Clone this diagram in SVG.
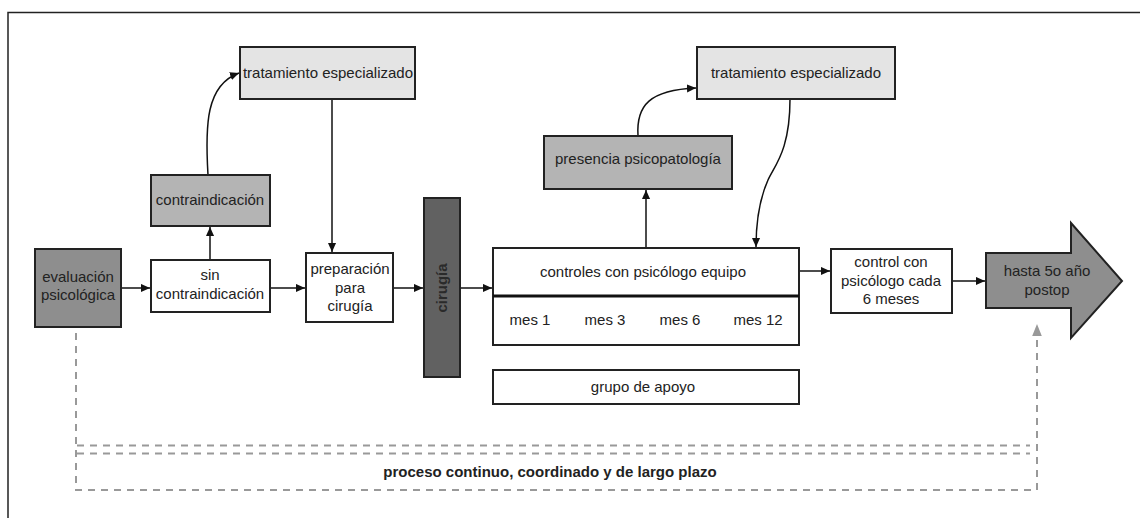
<svg xmlns="http://www.w3.org/2000/svg" width="1140" height="518" viewBox="0 0 1140 518">
<defs>
<style>
.box{stroke:#222;stroke-width:2}
.w{fill:#fff}.g1{fill:#8e8e8e}.g2{fill:#b4b4b4}.g3{fill:#e4e4e4}.g4{fill:#616161}
text{font-family:"Liberation Sans",Arial,sans-serif;font-size:15px;fill:#222;text-anchor:middle}
.c{fill:none;stroke:#111;stroke-width:1.5}
.d{fill:none;stroke:#999;stroke-width:2;stroke-dasharray:7,6}
</style>
<marker id="ah" viewBox="0 0 10 10" refX="10" refY="5" markerWidth="9" markerHeight="9" markerUnits="userSpaceOnUse" orient="auto"><path d="M0,0.5 L10,5 L0,9.5 z" fill="#111"/></marker>
<marker id="ahg" viewBox="0 0 10 10" refX="10" refY="5" markerWidth="12" markerHeight="12" markerUnits="userSpaceOnUse" orient="auto"><path d="M0,1 L10,5 L0,9 z" fill="#999"/></marker>
</defs>
<rect width="1140" height="518" fill="#fff"/>
<path d="M8,530 V12.5 H1150" fill="none" stroke="#222" stroke-width="1.5"/>

<g id="connectors">
<path class="c" d="M121,288 H150" marker-end="url(#ah)"/>
<path class="c" d="M210,260 V227" marker-end="url(#ah)"/>
<path class="c" d="M208,175 C205,125 206,85 239,73" marker-end="url(#ah)"/>
<path class="c" d="M332,99 V252" marker-end="url(#ah)"/>
<path class="c" d="M270,288 H305" marker-end="url(#ah)"/>
<path class="c" d="M393,288 H423" marker-end="url(#ah)"/>
<path class="c" d="M460,288 H492" marker-end="url(#ah)"/>
<path class="c" d="M646,248 V190" marker-end="url(#ah)"/>
<path class="c" d="M638,136 C636,105 650,90 696,88" marker-end="url(#ah)"/>
<path class="c" d="M790,99 C790,150 775,165 768,180 C760,198 756,220 756,247" marker-end="url(#ah)"/>
<path class="c" d="M799,271 H830" marker-end="url(#ah)"/>
<path class="c" d="M952,281 H985" marker-end="url(#ah)"/>
<path class="d" d="M76,333 V490 H1037 V324" marker-end="url(#ahg)"/>
<path class="d" d="M77,445.5 H1030"/>
<path class="d" d="M77,453.5 H1030"/>
</g>

<g id="evaluacion"><rect class="box g1" x="35" y="249" width="86" height="78"/><text x="78" y="282">evaluación</text><text x="78" y="300">psicológica</text></g>
<g id="sin_contraindicacion"><rect class="box w" x="151" y="260" width="119" height="52"/><text x="210" y="280">sin</text><text x="210" y="299">contraindicación</text></g>
<g id="contraindicacion"><rect class="box g2" x="151" y="175" width="119" height="51"/><text x="210" y="205">contraindicación</text></g>
<g id="tratamiento1"><rect class="box g3" x="240" y="47" width="175" height="52"/><text x="328" y="78">tratamiento especializado</text></g>
<g id="preparacion"><rect class="box w" x="306" y="253" width="87" height="69"/><text x="350" y="274">preparación</text><text x="350" y="293">para</text><text x="350" y="311">cirugía</text></g>
<g id="cirugia"><rect class="box g4" x="424" y="198" width="36" height="179"/><text transform="translate(447,288) rotate(-90)" style="font-weight:bold;fill:#2a2a2a">cirugía</text></g>
<g id="controles"><rect class="box w" x="493" y="248" width="306" height="97"/><line x1="493" y1="296" x2="799" y2="296" stroke="#111" stroke-width="3"/><text x="643" y="277">controles con psicólogo equipo</text><text x="530" y="325">mes 1</text><text x="605" y="325">mes 3</text><text x="680" y="325">mes 6</text><text x="758" y="325">mes 12</text></g>
<g id="grupo"><rect class="box w" x="493" y="370" width="306" height="34"/><text x="643" y="392">grupo de apoyo</text></g>
<g id="presencia"><rect class="box g2" x="544" y="136" width="188" height="53"/><text x="638" y="164">presencia psicopatología</text></g>
<g id="tratamiento2"><rect class="box g3" x="697" y="47" width="198" height="52"/><text x="796" y="78">tratamiento especializado</text></g>
<g id="control6"><rect class="box w" x="831" y="249" width="121" height="64"/><text x="891" y="267">control con</text><text x="891" y="286">psicólogo cada</text><text x="891" y="304">6 meses</text></g>
<g id="hasta"><path class="box g1" d="M986,253 H1071 V223 L1122,281 L1071,338 V308 H986 Z"/><text x="1047" y="276">hasta 5o año</text><text x="1047" y="295">postop</text></g>
<g id="proceso"><text x="550" y="477" style="font-weight:bold;font-size:15px">proceso continuo, coordinado y de largo plazo</text></g>
</svg>
